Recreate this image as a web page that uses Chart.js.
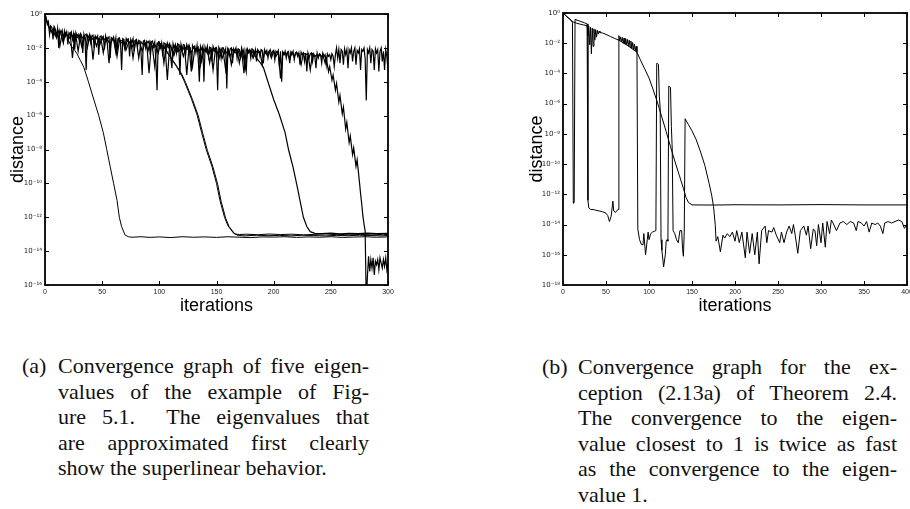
<!DOCTYPE html>
<html>
<head>
<meta charset="utf-8">
<script src="https://cdn.jsdelivr.net/npm/chart.js@4.4.1/dist/chart.umd.min.js"></script>
<style>
  html, body { margin: 0; padding: 0; background: #fff; }
  body { width: 910px; height: 509px; position: relative; overflow: hidden; }
  #leftChart { position: absolute; left: 0; top: 0; }
  #rightChart { position: absolute; left: 500px; top: 0; }
  .cap { position: absolute; font-family: "Liberation Serif", serif; font-size: 22px; line-height: 25.5px; color: #111; }
  .cap .tag { position: absolute; left: 0; top: 0; }
  .cap .j { text-align: justify; text-align-last: justify; }
</style>
</head>
<body>
<canvas id="leftChart" width="400" height="320"></canvas>
<canvas id="rightChart" width="410" height="320"></canvas>

<div class="cap" style="left:22px; top:353px; width:347px;">
  <span class="tag">(a)</span>
  <div style="margin-left:36px;">
    <div class="j">Convergence graph of five eigen-</div>
    <div class="j">values of the example of Fig-</div>
    <div class="j">ure 5.1.&nbsp; The eigenvalues that</div>
    <div class="j">are approximated first clearly</div>
    <div>show the superlinear behavior.</div>
  </div>
</div>

<div class="cap" style="left:542px; top:354px; width:355px;">
  <span class="tag">(b)</span>
  <div style="margin-left:36px;">
    <div class="j">Convergence graph for the ex-</div>
    <div class="j">ception (2.13a) of Theorem 2.4.</div>
    <div class="j">The convergence to the eigen-</div>
    <div class="j">value closest to 1 is twice as fast</div>
    <div class="j">as the convergence to the eigen-</div>
    <div>value 1.</div>
  </div>
</div>

<script>
// all distances are stored as log10(distance)

// left panel: x axis / y axis ticks
const leftXTicks = [0, 50, 100, 150, 200, 250, 300];
const leftYTicks = [0, -2, -4, -6, -8, -10, -12, -14, -16];

// noisy band, one value per iteration 0..300
const leftBandA = [
  0, -0.25, -0.6, -0.45, -1.2, -0.7, -0.8, -1.5, -0.75, -0.9,
  -1.3, -0.85, -2.0, -0.95, -1.1, -0.95, -1.6, -1.0, -1.3, -1.05,
  -1.8, -1.1, -1.2, -1.05, -1.5, -1.15, -2.1, -1.1, -1.3, -1.2,
  -1.6, -1.15, -1.25, -2.3, -1.2, -1.5, -3.3, -1.25, -1.4, -1.2,
  -1.7, -1.3, -1.25, -2.0, -1.3, -1.45, -1.3, -2.4, -1.35, -1.3,
  -1.5, -1.35, -2.1, -1.3, -1.6, -1.4, -1.35, -2.6, -1.4, -1.5,
  -1.35, -1.8, -1.4, -2.2, -1.45, -1.4, -1.6, -3.3, -1.45, -1.5,
  -2.0, -1.45, -1.6, -1.5, -2.5, -1.5, -1.7, -1.45, -2.2, -1.55,
  -1.5, -1.9, -1.55, -1.6, -2.3, -3.6, -1.6, -1.55, -2.0, -1.6,
  -1.7, -1.6, -2.4, -1.65, -1.6, -1.9, -1.65, -2.8, -4.5, -1.7,
  -1.65, -2.0, -1.7, -2.5, -1.7, -1.75, -2.2, -1.7, -1.9, -1.75,
  -2.6, -3.2, -1.75, -2.0, -1.8, -2.3, -1.75, -1.8, -3.6, -1.8,
  -2.1, -1.8, -1.85, -2.4, -1.8, -2.0, -1.85, -2.7, -3.4, -1.85,
  -2.0, -1.9, -2.3, -1.85, -2.6, -4.0, -1.9, -2.1, -1.9, -4.0,
  -1.95, -2.2, -1.9, -2.5, -1.95, -2.0, -2.8, -1.9, -2.1, -2.0,
  -2.3, -4.5, -1.95, -2.1, -2.6, -2.0, -2.0, -2.3, -2.05, -4.4,
  -2.0, -2.4, -2.05, -2.0, -2.9, -2.05, -2.2, -2.0, -2.6, -2.05,
  -2.1, -2.5, -2.0, -2.3, -2.1, -3.0, -3.4, -2.05, -2.2, -2.1,
  -2.6, -2.05, -2.1, -2.4, -2.1, -2.8, -2.1, -2.2, -2.5, -2.1,
  -2.15, -2.9, -2.1, -2.3, -2.15, -2.6, -2.2, -2.1, -2.4, -2.2,
  -2.15, -2.7, -2.2, -2.3, -2.15, -3.1, -2.2, -4.0, -2.25, -2.4,
  -2.2, -2.6, -2.25, -2.2, -2.9, -2.25, -2.4, -2.2, -2.7, -2.3,
  -2.25, -2.5, -2.3, -3.0, -2.25, -2.4, -2.3, -2.8, -2.3, -3.4,
  -2.3, -2.6, -2.35, -2.3, -2.8, -2.35, -2.5, -3.2, -2.3, -2.6,
  -2.35, -2.4, -2.9, -2.3, -2.5, -2.4, -3.0, -2.35, -2.5, -2.4,
  -2.7, -2.35, -2.5, -3.1, -2.4, -2.0, -2.6, -2.1, -2.9, -2.1,
  -2.2, -3.0, -2.05, -2.4, -2.1, -3.2, -2.1, -2.3, -2.0, -2.8,
  -2.2, -2.0, -3.0, -2.15, -2.3, -2.05, -3.3, -2.1, -2.2, -2.0,
  -2.6, -5.1, -2.1, -2.3, -2.0, -2.9, -2.1, -2.2, -3.3, -2.05,
  -2.3, -2.1, -3.4, -2.2, -2.0, -2.8, -2.2, -3.3, -2.1, -2.5,
  -3.3
];

// second noisy curve, even iterations 0..242, then it converges (last eigenvalue)
const leftBandB = [
  0, -0.5, -0.9, -1.1, -0.8, -1.4, -1.0, -1.2, -1.7, -1.1,
  -1.3, -1.15, -2.6, -1.2, -1.4, -1.25, -1.9, -1.3, -1.2, -1.6,
  -1.3, -2.7, -1.35, -1.4, -1.8, -1.35, -1.5, -1.4, -2.9, -1.45,
  -1.5, -2.3, -1.5, -1.6, -1.55, -2.1, -1.5, -1.7, -2.0, -1.6,
  -1.6, -2.6, -1.65, -1.8, -1.7, -2.2, -1.65, -2.0, -3.1, -1.75,
  -1.9, -1.75, -2.9, -1.8, -2.0, -1.85, -2.5, -1.85, -2.2, -1.85,
  -2.2, -1.9, -3.6, -1.9, -2.3, -1.95, -2.1, -1.95, -3.0, -2.0,
  -2.2, -2.0, -2.9, -2.05, -2.2, -2.0, -2.7, -2.05, -2.3, -3.3,
  -2.05, -2.5, -2.1, -2.2, -2.1, -2.9, -2.15, -3.5, -2.1, -2.3,
  -2.15, -2.6, -2.15, -2.3, -2.2, -3.0, -2.2, -2.4, -2.2, -2.6,
  -2.2, -2.5, -2.25, -3.8, -2.25, -2.4, -2.3, -2.7, -2.25, -2.5,
  -2.3, -2.35, -3.0, -2.3, -2.4, -2.35, -3.3, -2.35, -2.5, -2.4,
  -2.45, -2.5
];
const leftEIter = [243, 245, 246, 248, 249, 251, 252, 254, 255, 257, 258, 260, 261, 263, 264, 266, 267,
  269, 270, 272, 273, 275, 276, 277, 278, 279, 280, 281, 282, 283, 284, 285, 286, 287, 288, 289, 290,
  291, 292, 293, 294, 295, 296, 297, 298, 299, 300];
const leftE = [-2.4, -2.9, -2.6, -3.4, -3.1, -3.9, -3.6, -4.5, -4.1, -5.2, -4.8, -5.9, -5.5, -6.8, -6.4, -7.6, -7.2,
  -8.3, -7.9, -9.0, -8.6, -9.9, -10.6, -11.2, -11.9, -12.4, -12.8, -17, -15.5, -14.3, -15.2, -14.5, -15.0, -14.4, -15.4, -14.6, -14.8,
  -14.5, -15.1, -14.4, -14.7, -15.0, -14.5, -14.9, -14.4, -15.1, -14.7];

// third noisy curve, odd iterations 1..179, before the fourth eigenvalue converges
const leftBandC = [
  -0.3, -0.7, -1.0, -0.9, -1.3, -1.1, -1.9, -1.15, -1.3, -1.2,
  -1.45, -1.2, -1.6, -1.3, -2.2, -1.3, -1.4, -1.35, -2.0, -1.4,
  -1.5, -1.4, -1.9, -1.45, -1.5, -2.3, -1.5, -1.55, -1.8, -1.5,
  -1.6, -2.5, -1.6, -1.7, -1.65, -2.1, -1.7, -1.6, -2.6, -1.7,
  -1.75, -1.7, -2.2, -1.8, -1.75, -3.5, -1.8, -2.0, -1.85, -2.3,
  -1.8, -2.1, -1.9, -3.9, -1.9, -2.0, -2.4, -1.95, -2.2, -2.0,
  -2.5, -2.0, -2.1, -2.0, -3.1, -2.05, -2.2, -2.1, -2.8, -2.1,
  -2.2, -2.4, -2.1, -3.3, -2.15, -2.3, -2.2, -2.6, -2.15, -2.3,
  -2.2, -3.0, -2.25, -2.3, -2.2, -2.6, -2.25, -3.2, -2.3, -2.25
];

const leftAIter = [20, 23, 26, 28, 31, 34, 38, 42, 47, 51, 54, 57, 60, 63, 65, 67, 70, 73, 76, 84, 92, 100,
  110, 120, 130, 140, 150, 160, 170, 180, 190, 200, 210, 220, 230, 240, 250, 260, 270, 280, 290, 300];
const leftA = [-1.5, -1.9, -2.15, -2.35, -2.75, -3.15, -4.0, -4.9, -6.0, -7.0, -8.0, -9.0, -10.0, -11.0, -12.0, -12.55,
  -13.05, -13.15, -13.18, -13.15, -13.19, -13.16, -13.2, -13.15, -13.18, -13.16, -13.19, -13.15, -13.18, -13.2,
  -13.16, -13.17, -13.15, -13.19, -13.16, -13.18, -13.15, -13.19, -13.17, -13.15, -13.18, -13.16];

const leftBIter = [98, 101, 104, 107, 111, 115, 119, 122, 125, 128, 133, 137, 141, 146, 150, 153, 157, 160, 165, 169,
  175, 185, 195, 205, 215, 225, 235, 245, 255, 265, 275, 285, 295, 300];
const leftB = [-1.7, -1.8, -1.95, -2.3, -2.7, -3.1, -3.55, -4.0, -4.5, -5.0, -5.95, -7.0, -8.0, -9.0, -10.0, -11.0,
  -12.0, -12.5, -12.95, -13.08, -13.1, -13.06, -13.09, -13.07, -13.1, -13.06, -13.08, -13.1, -13.07, -13.09,
  -13.06, -13.08, -13.1, -13.07];

const leftCIter = [99, 102, 105, 108, 112, 116, 120, 123, 126, 129, 134, 138, 142, 147, 151, 154, 158, 161, 166, 170,
  176, 186, 196, 206, 216, 226, 236, 246, 256, 266, 276, 286, 296, 300];
const leftC = [-1.6, -1.85, -2.0, -2.35, -2.75, -3.15, -3.6, -4.05, -4.55, -5.05, -6.0, -7.05, -8.05, -9.05, -10.05,
  -11.05, -12.05, -12.55, -12.98, -13.02, -13.0, -13.03, -12.99, -13.02, -13.0, -13.04, -13.01, -12.99, -13.03,
  -13.0, -13.02, -13.0, -13.03, -13.01];

const leftDIter = [181, 185, 188, 191, 195, 200, 205, 210, 213, 217, 220, 223, 226, 229, 232, 236, 242, 250, 258,
  266, 274, 282, 290, 300];
const leftD = [-2.2, -2.6, -2.85, -3.15, -4.0, -5.05, -5.95, -7.0, -8.0, -9.05, -10.0, -11.0, -12.0, -12.55, -12.85,
  -12.95, -12.97, -12.94, -12.98, -12.95, -12.97, -12.94, -12.96, -12.95];

// right panel
const rightXTicks = [0, 50, 100, 150, 200, 250, 300, 350, 400];
const rightYTicks = [0, -2, -4, -6, -8, -10, -12, -14, -16, -18];

// eigenvalue closest to 1 (smooth, converges around iteration 150)
const rightPIter = [0, 4, 8, 12, 16, 20, 24, 28, 29, 30, 31, 32, 33, 34, 35, 36, 37, 38, 39, 40, 41, 42, 43,
  46, 50, 55, 60, 66, 70, 75, 80, 86, 90, 95, 100, 105, 110, 115, 120, 125, 130, 135, 140, 143, 146, 150,
  175, 200, 250, 300, 350, 400];
const rightP = [0, -0.22, -0.42, -0.6, -0.68, -0.74, -0.79, -0.84, -1.5, -0.9, -2.1, -0.95, -2.7, -1.0, -2.2,
  -1.05, -1.8, -1.1, -1.6, -1.15, -1.4, -1.2, -1.3, -1.32, -1.42, -1.55, -1.68, -1.83, -1.98, -2.15, -2.35,
  -2.6, -3.1, -3.7, -4.3, -5.1, -5.95, -6.9, -7.85, -8.85, -9.8, -10.7, -11.6, -12.2, -12.55, -12.7,
  -12.71, -12.69, -12.7, -12.68, -12.7, -12.7];

// eigenvalue 1 (jumps, then converges around iteration 180)
const rightRIter = [0, 4, 8, 11, 12, 13, 14, 15, 20, 25, 28,
  29, 30, 32, 35, 38, 42, 46, 50, 52, 54, 56, 58, 59, 61, 63, 64,
  65, 66, 67, 68, 69, 70, 71, 72, 73, 74, 75, 76, 77, 78, 79, 80, 81, 82, 83, 84, 85, 86,
  87, 89, 91, 93, 94, 96, 98, 99, 100, 102, 104, 106, 108,
  109, 110, 111, 112, 113, 114, 115, 117, 119, 120, 121, 122,
  123, 124, 125, 126, 127, 128, 130, 132, 134, 136, 138, 139, 140, 141,
  142, 146, 150, 155, 160, 165, 170, 173, 175, 177, 178,
  180, 183, 186, 188, 191, 194, 197, 200, 202, 205, 208, 212, 214, 217, 220, 223, 226, 228, 231, 235,
  237, 239, 243, 245, 248, 252, 254, 257, 260, 263, 266, 268, 270, 273, 276, 280, 283, 285, 288, 291,
  293, 295, 297, 300, 302, 305, 307, 310, 312, 314, 318, 322, 326, 330, 334, 338, 341, 343, 347, 350,
  353, 356, 359, 363, 366, 369, 372, 374, 378, 382, 386, 390, 394, 397, 400];
const rightR = [0, -0.2, -0.4, -0.62, -12.6, -12.55, -0.42, -0.45, -0.55, -0.65, -0.72,
  -12.4, -12.9, -13.0, -13.0, -13.05, -13.1, -13.15, -13.25, -13.4, -13.8, -13.45, -12.45, -13.1, -13.2, -13.05, -13.0,
  -1.5, -1.85, -1.58, -1.9, -1.62, -2.0, -1.66, -2.05, -1.7, -2.1, -1.75, -2.2, -1.8, -2.25, -1.86, -2.35, -1.95, -2.45, -2.05, -2.5, -2.2, -2.6,
  -14.3, -15.0, -15.3, -15.35, -14.6, -16.0, -15.0, -14.5, -15.0, -14.6, -14.5, -14.45, -14.4,
  -3.33, -3.35, -3.4, -5.5, -6.3, -15.0, -15.7, -16.8, -16.0, -15.1, -15.0, -15.1,
  -4.83, -4.88, -4.95, -7.5, -9.0, -14.4, -14.6, -15.0, -15.2, -14.4, -14.4, -15.6, -16.1, -14.5,
  -7.0, -7.4, -7.8, -8.4, -9.2, -10.1, -11.3, -12.1, -12.8, -14.0, -15.1,
  -14.8, -15.8, -14.7, -14.9, -14.6, -14.8, -14.5, -15.1, -14.4, -15.2, -14.5, -16.2, -14.5, -15.9, -14.6, -16.0, -14.5, -16.6, -14.4, -14.1,
  -15.2, -14.4, -14.5, -14.2, -14.7, -15.2, -14.5, -15.2, -14.5, -14.1, -14.6, -14.0, -14.7, -15.9, -14.4, -14.1, -14.7, -14.1, -15.6, -14.3,
  -14.4, -15.4, -14.0, -15.2, -13.9, -15.5, -13.8, -14.6, -13.7, -13.9, -14.4, -13.9, -13.8, -14.0, -13.8, -13.9, -14.4, -13.8, -13.9, -14.1,
  -13.8, -14.5, -13.9, -14.0, -13.9, -14.1, -14.6, -13.9, -13.8, -13.9, -13.8, -13.7, -13.8, -14.25, -14.0];

const FONT = '"Liberation Sans", Arial, sans-serif';
const SUP = { '-': '\u207B', '0': '\u2070', '1': '\u00B9', '2': '\u00B2', '3': '\u00B3', '4': '\u2074',
  '5': '\u2075', '6': '\u2076', '7': '\u2077', '8': '\u2078', '9': '\u2079' };
const tenTo = (e) => '10' + String(e).split('').map(c => SUP[c]).join('');

function pts(iters, logs) {
  return iters.map((it, i) => ({ x: it, y: Math.pow(10, logs[i]) }));
}
function seq(start, step, logs) {
  return logs.map((v, i) => ({ x: start + i * step, y: Math.pow(10, v) }));
}

// box + inward tick marks on all four sides
const framePlugin = {
  id: 'frame',
  afterDatasetsDraw(chart) {
    const { ctx, chartArea: a, scales: { x, y } } = chart;
    const len = 4;
    ctx.save();
    ctx.strokeStyle = '#000';
    ctx.lineWidth = 1;
    ctx.beginPath();
    x.ticks.forEach(t => {
      const px = Math.round(x.getPixelForValue(t.value)) + 0.5;
      ctx.moveTo(px, a.bottom); ctx.lineTo(px, a.bottom - len);
      ctx.moveTo(px, a.top); ctx.lineTo(px, a.top + len);
    });
    y.ticks.forEach(t => {
      const py = Math.round(y.getPixelForValue(t.value)) + 0.5;
      ctx.moveTo(a.left, py); ctx.lineTo(a.left + len, py);
      ctx.moveTo(a.right, py); ctx.lineTo(a.right - len, py);
    });
    ctx.stroke();
    ctx.lineWidth = 1.8;
    ctx.strokeRect(a.left, a.top, a.right - a.left, a.bottom - a.top);
    ctx.restore();
  }
};

function makeChart(id, datasets, xMax, xTicks, yTicks, pad, yWidth) {
  return new Chart(document.getElementById(id), {
    type: 'line',
    data: { datasets },
    options: {
      responsive: false,
      animation: false,
      devicePixelRatio: 1,
      layout: { padding: pad },
      plugins: { legend: { display: false }, tooltip: { enabled: false } },
      elements: {
        point: { radius: 0 },
        line: { borderWidth: 1, borderColor: '#000', tension: 0, fill: false }
      },
      scales: {
        x: {
          type: 'linear', min: 0, max: xMax,
          afterBuildTicks: s => { s.ticks = xTicks.map(v => ({ value: v })); },
          afterFit: s => { s.height = 35; s.paddingLeft = 0; s.paddingRight = 0; },
          grid: { display: false, drawTicks: false },
          border: { display: false },
          ticks: { font: { family: FONT, size: 7 }, color: '#222', padding: 3, maxRotation: 0, autoSkip: false },
          title: { display: true, text: 'iterations', color: '#000',
                   font: { family: FONT, size: 18 }, padding: { top: 0, bottom: 3 } }
        },
        y: {
          type: 'logarithmic', min: Math.pow(10, yTicks[yTicks.length - 1]), max: 1,
          afterBuildTicks: s => { s.ticks = yTicks.map(e => ({ value: Math.pow(10, e) })); },
          afterFit: s => { s.width = yWidth; s.paddingTop = 0; s.paddingBottom = 0; },
          grid: { display: false, drawTicks: false },
          border: { display: false },
          ticks: {
            font: { family: '"DejaVu Sans", sans-serif', size: 7 }, color: '#222', padding: 3, autoSkip: false,
            callback: v => tenTo(Math.round(Math.log10(v)))
          },
          title: { display: true, text: 'distance', color: '#000',
                   font: { family: FONT, size: 18 }, padding: { top: 7, bottom: 0 } }
        }
      }
    },
    plugins: [framePlugin]
  });
}

makeChart('leftChart', [
  { data: seq(0, 1, leftBandA), borderWidth: 1.2 },
  { data: seq(0, 2, leftBandB).concat(pts(leftEIter, leftE)), borderWidth: 1.2 },
  { data: seq(1, 2, leftBandC).concat(pts(leftDIter, leftD)), borderWidth: 1.2 },
  { data: pts(leftAIter, leftA) },
  { data: pts(leftBIter, leftB) },
  { data: pts(leftCIter, leftC) }
], 300, leftXTicks, leftYTicks, { left: 0, right: 12, top: 14, bottom: 0 }, 45);

makeChart('rightChart', [
  { data: pts(rightPIter, rightP) },
  { data: pts(rightRIter, rightR) }
], 400, rightXTicks, rightYTicks, { left: 19, right: 3, top: 13, bottom: 0 }, 44);
</script>
</body>
</html>
